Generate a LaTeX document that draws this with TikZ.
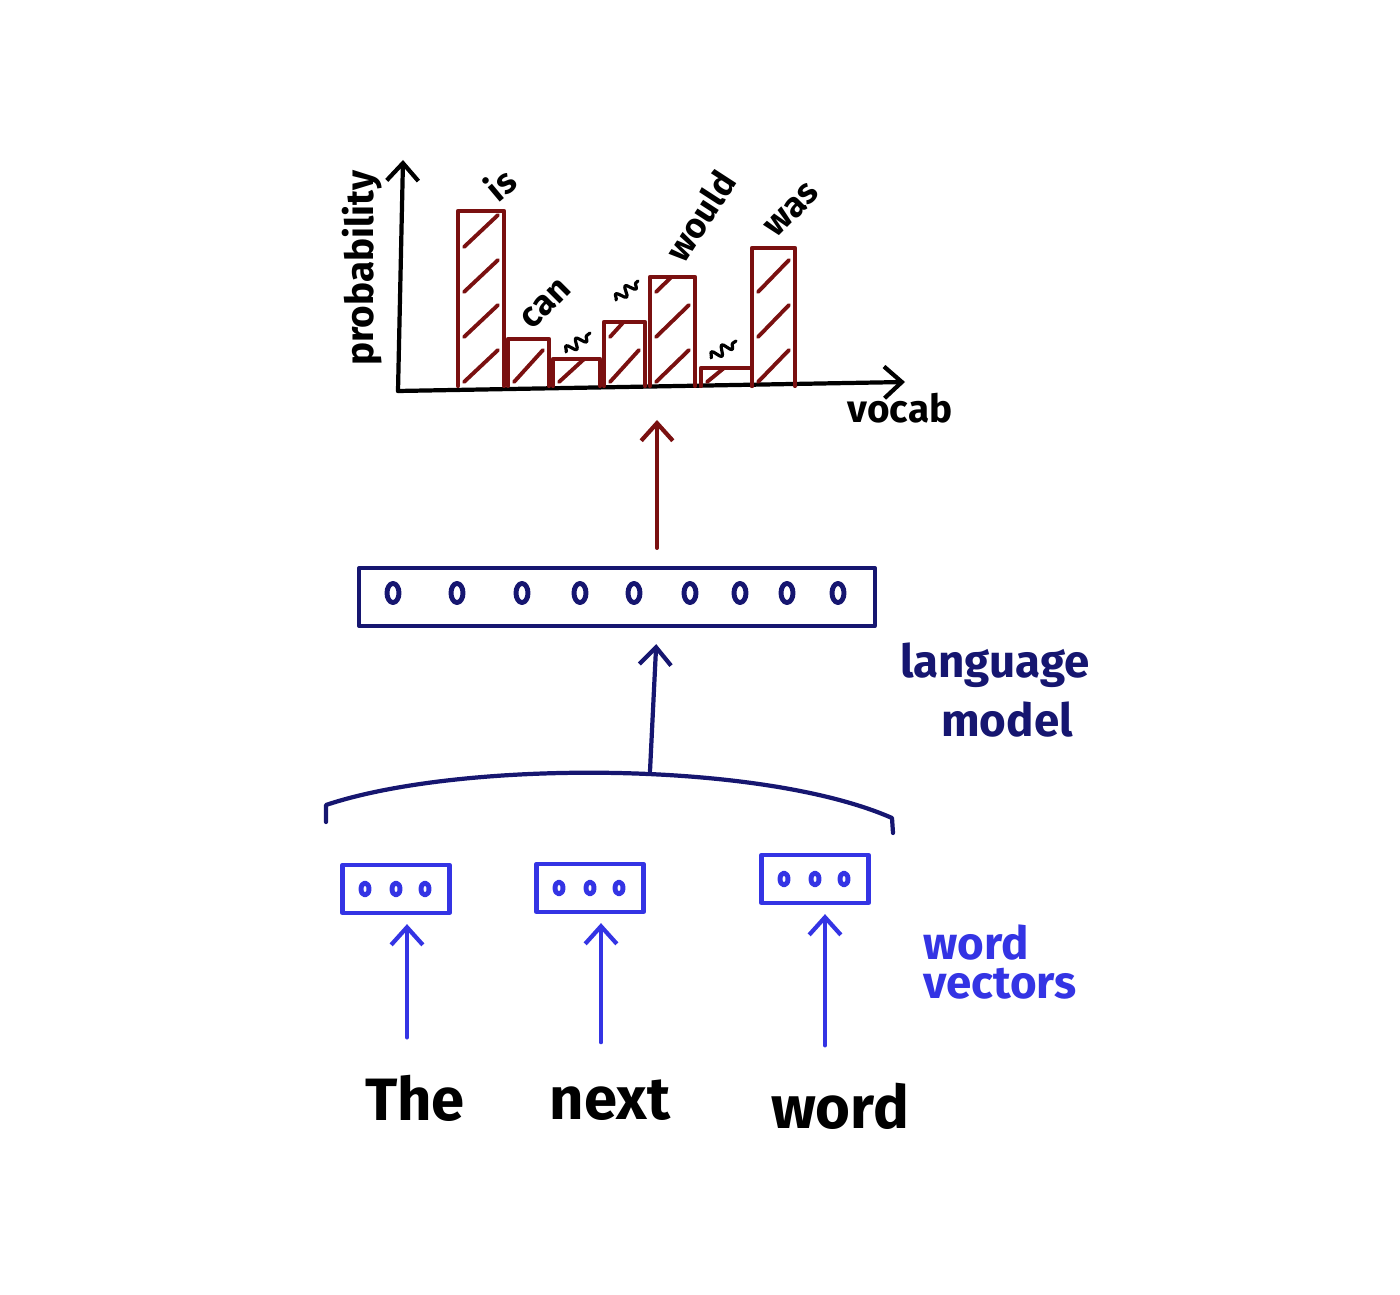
\documentclass[tikz,border=0pt]{standalone}
\usepackage{fontspec}
\setmainfont{Fira Sans}
\usetikzlibrary{arrows.meta, positioning, calc, decorations.pathmorphing}
\definecolor{barred}{RGB}{122,16,16}
\definecolor{lmnavy}{RGB}{22,22,112}
\definecolor{vecblue}{RGB}{52,52,228}

\begin{document}
\begin{tikzpicture}[
    x=0.01cm, y=-0.01cm,
    line cap=round, line join=round,
    every node/.style={font=\bfseries},
    pen/.style={line width=1.2pt},
    arr/.style={pen, -{Straight Barb[length=5pt, width=9pt]}},
    bar/.style={pen, draw=barred},
    hatch/.style={line width=1.1pt, draw=barred},
    scribble/.style={line width=0.9pt, decorate, decoration={snake, amplitude=1.4pt, segment length=3.5pt}},
    lmbox/.style={draw=lmnavy, pen, minimum width=5.15cm, minimum height=0.58cm, inner sep=0pt},
    vecbox/.style={draw=vecblue, pen, minimum width=1.07cm, minimum height=0.48cm, inner sep=0pt},
    unit/.style={line width=1.4pt},
    axislabel/.style={font=\fontsize{11}{13}\selectfont\bfseries},
    barlabel/.style={font=\fontsize{10}{12}\selectfont\bfseries, inner sep=0pt},
    sidelabel/.style={font=\fontsize{13}{12}\selectfont\bfseries, align=left},
    wordlabel/.style={font=\fontsize{17}{19}\selectfont\bfseries},
  ]
  \useasboundingbox (0,0) rectangle (1400,1295);

  % axes of the output distribution
  \coordinate (origin) at (398,391);
  \coordinate (ytop) at (403,160);
  \coordinate (xend) at (905,382);
  \draw[arr] (origin) -- (ytop);
  \draw[arr] (origin) -- (xend);
  \node[axislabel, rotate=90] (ylab) at (362,268) {probability};
  \node[axislabel] (xlab) at (900,408) {vocab};

  % hatched bars
  \foreach \l/\r/\t in {458/504/211, 508/549/339, 553/600/359, 604/645/322,
                        650/695/277, 701/752/368, 752/795/248} {
    \begin{scope}
      \clip (\l,386) rectangle (\r,\t);
      \foreach \y in {382,337,...,200}
        \draw[hatch] (\l+6,\y) -- (\r-6,\y-32);
    \end{scope}
    \draw[bar] (\l,386) -- (\l,\t) -- (\r,\t) -- (\r,386);
  }

  % words above the bars
  \node[barlabel, rotate=40] (lis) at (500,184) {is};
  \node[barlabel, rotate=45] (lcan) at (546,304) {can};
  \node[barlabel, rotate=57] (lwould) at (700,216) {would};
  \node[barlabel, rotate=45] (lwas) at (792,210) {was};
  \draw[scribble] (566,352) -- (590,333);
  \draw[scribble] (616,300) -- (638,281);
  \draw[scribble] (711,358) -- (736,341);

  % language model
  \node[lmbox] (lm) at (617,597) {};
  \foreach \x in {393,457,522,580,634,690,740,787,838}
    \draw[unit, lmnavy] (\x,593) ellipse [x radius=0.06cm, y radius=0.095cm];
  \node[sidelabel, text=lmnavy] (lmlab) at (995,690) {language\\[3pt]\hspace{0.9em}model};

  \coordinate (pout) at (657,420);
  \draw[arr, barred, shorten <=0.18cm] (lm.north -| pout) -- (pout);

  % context bracket
  \coordinate (ctxl) at (326,822);
  \coordinate (ctxr) at (893,833);
  \coordinate (ctx) at (650,771);
  \draw[pen, lmnavy] (ctxl) -- ++(0,-17) .. controls (460,760) and (760,760) .. (892,818) -- (ctxr);
  \draw[arr, lmnavy, shorten >=0.16cm] (ctx) -- (lm.south -| 657,0);

  % word vectors
  \node[vecbox] (v1) at (396,889) {};
  \node[vecbox] (v2) at (590,888) {};
  \node[vecbox] (v3) at (815,879) {};
  \foreach \v in {v1,v2,v3}
    \foreach \dx in {-31,0,29}
      \draw[unit, vecblue] ($(\v.center)+(\dx,0)$) ellipse [x radius=0.04cm, y radius=0.06cm];
  \node[sidelabel, text=vecblue] (veclab) at (1000,962) {word\\[-1pt]vectors};

  % input words
  \node[wordlabel] (the) at (415,1098) {The};
  \node[wordlabel] (next) at (610,1100) {next};
  \node[wordlabel] (word) at (840,1106) {word};
  \draw[arr, vecblue, shorten <=0.25cm, shorten >=0.09cm] (the.north -| 407,0) -- (v1.south -| 407,0);
  \draw[arr, vecblue, shorten <=0.25cm, shorten >=0.09cm] (next.north -| 601,0) -- (v2.south -| 601,0);
  \draw[arr, vecblue, shorten <=0.25cm, shorten >=0.09cm] (word.north -| 825,0) -- (v3.south -| 825,0);
\end{tikzpicture}
\end{document}
